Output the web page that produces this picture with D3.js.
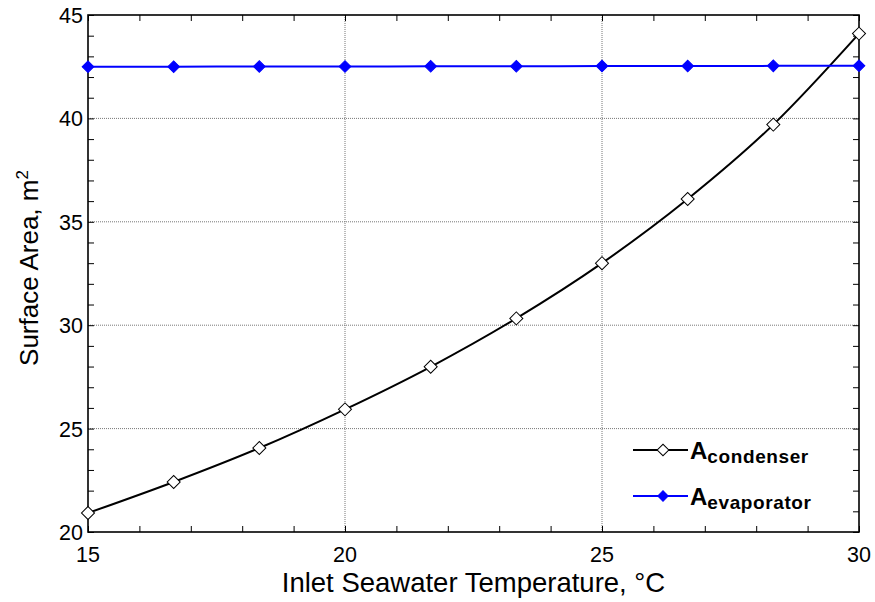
<!DOCTYPE html>
<html>
<head>
<meta charset="utf-8">
<script src="https://cdn.jsdelivr.net/npm/d3@7"></script>
<style>
  body { margin: 0; background: #fff; }
  text { font-family: "Liberation Sans", Arial, sans-serif; }
</style>
</head>
<body>
<div id="chart"></div>
<script>
// data
const temps = [15, 16.667, 18.333, 20, 21.667, 23.333, 25, 26.667, 28.333, 30];
const aCondenser = [20.92, 22.42, 24.06, 25.93, 27.99, 30.33, 33.0, 36.1, 39.7, 44.1];
const aEvaporator = [42.50, 42.50, 42.51, 42.51, 42.52, 42.52, 42.53, 42.53, 42.54, 42.55];
const xTicks = [15, 20, 25, 30];
const yTicks = [20, 25, 30, 35, 40, 45];

const width = 875, height = 602;
const margin = { top: 15, right: 16, bottom: 70, left: 88 };

const svg = d3.select('#chart').append('svg')
  .attr('width', width)
  .attr('height', height);

const x = d3.scaleLinear().domain([15, 30]).range([margin.left, width - margin.right]);
const y = d3.scaleLinear().domain([20, 45]).range([height - margin.bottom, margin.top]);

// grid
const grid = svg.append('g').attr('class', 'grid');
grid.selectAll('.gx')
  .data(xTicks.slice(1, -1))
  .enter().append('line')
  .attr('x1', d => x(d)).attr('x2', d => x(d))
  .attr('y1', y(20)).attr('y2', y(45))
  .attr('stroke', '#777').attr('stroke-width', 1).attr('stroke-dasharray', '1,1');
grid.selectAll('.gy')
  .data(yTicks.slice(1, -1))
  .enter().append('line')
  .attr('x1', x(15)).attr('x2', x(30))
  .attr('y1', d => y(d)).attr('y2', d => y(d))
  .attr('stroke', '#777').attr('stroke-width', 1).attr('stroke-dasharray', '1,1');

// axes, ticks pointing inward, minor every 1 unit
const minorX = d3.range(15, 31, 1);
const minorY = d3.range(20, 46, 1);

const xAxis = svg.append('g')
  .attr('transform', `translate(0,${y(20)})`)
  .call(d3.axisBottom(x).tickValues(minorX).tickSize(-6).tickFormat(''));
xAxis.select('.domain').remove();

const yAxis = svg.append('g')
  .attr('transform', `translate(${x(15)},0)`)
  .call(d3.axisLeft(y).tickValues(minorY).tickSize(-6).tickFormat(''));
yAxis.select('.domain').remove();

// right and top minor ticks
svg.append('g')
  .attr('transform', `translate(${x(30)},0)`)
  .call(d3.axisRight(y).tickValues(minorY).tickSize(-6).tickFormat(''))
  .select('.domain').remove();
svg.append('g')
  .attr('transform', `translate(0,${y(45)})`)
  .call(d3.axisTop(x).tickValues(minorX).tickSize(-6).tickFormat(''))
  .select('.domain').remove();

svg.selectAll('.tick line').attr('stroke', '#000').attr('stroke-width', 1);

// frame
svg.append('rect')
  .attr('x', x(15)).attr('y', y(45))
  .attr('width', x(30) - x(15)).attr('height', y(20) - y(45))
  .attr('fill', 'none').attr('stroke', '#000').attr('stroke-width', 1.6);

// tick labels
svg.selectAll('.xl')
  .data(xTicks)
  .enter().append('text')
  .attr('x', d => x(d)).attr('y', y(20) + 30)
  .attr('text-anchor', 'middle')
  .attr('font-size', 21.5)
  .text(d => d);
svg.selectAll('.yl')
  .data(yTicks)
  .enter().append('text')
  .attr('x', x(15) - 5).attr('y', d => y(d) + 8)
  .attr('text-anchor', 'end')
  .attr('font-size', 21.5)
  .text(d => d);

// axis titles
svg.append('text')
  .attr('x', (x(15) + x(30)) / 2).attr('y', 592)
  .attr('text-anchor', 'middle')
  .attr('font-size', 27.5)
  .text('Inlet Seawater Temperature, °C');

const yt = svg.append('text')
  .attr('transform', `translate(38,268) rotate(-90)`)
  .attr('text-anchor', 'middle')
  .attr('font-size', 26);
yt.append('tspan').text('Surface Area, m');
yt.append('tspan').attr('font-size', 17).attr('dy', -10).text('2');

// lines
const pts = vals => temps.map((t, i) => [t, vals[i]]);
const line = d3.line().x(d => x(d[0])).y(d => y(d[1])).curve(d3.curveMonotoneX);

// square turned 45 degrees, like the reference markers
const diamond = d3.symbol().type(d3.symbolSquare);

const series = [
  { vals: aCondenser, color: '#000', fill: '#fff', size: 85, sub: 'condenser' },
  { vals: aEvaporator, color: '#0000ff', fill: '#0000ff', size: 68, sub: 'evaporator' }
];

const plot = svg.append('g');
series.forEach(s => {
  plot.append('path')
    .datum(pts(s.vals))
    .attr('fill', 'none')
    .attr('stroke', s.color)
    .attr('stroke-width', 2)
    .attr('d', line);
  plot.selectAll(null)
    .data(pts(s.vals))
    .enter().append('path')
    .attr('transform', d => `translate(${x(d[0])},${y(d[1])}) rotate(45)`)
    .attr('d', diamond.size(s.size)())
    .attr('fill', s.fill)
    .attr('stroke', s.color)
    .attr('stroke-width', 1);
});

// legend
const legend = svg.append('g');
series.forEach((s, i) => {
  const ly = 450 + i * 46;
  legend.append('line')
    .attr('x1', 633).attr('x2', 688)
    .attr('y1', ly).attr('y2', ly)
    .attr('stroke', s.color).attr('stroke-width', 2);
  legend.append('path')
    .attr('transform', `translate(663,${ly}) rotate(45)`)
    .attr('d', diamond.size(s.size * 0.8)())
    .attr('fill', s.fill)
    .attr('stroke', s.color);
  const t = legend.append('text')
    .attr('x', 690).attr('y', ly + 9)
    .attr('font-weight', 'bold')
    .attr('font-size', 24);
  t.append('tspan').text('A');
  t.append('tspan').attr('font-size', 19).attr('dy', 4).attr('letter-spacing', 0.6).text(s.sub);
});
</script>
</body>
</html>
